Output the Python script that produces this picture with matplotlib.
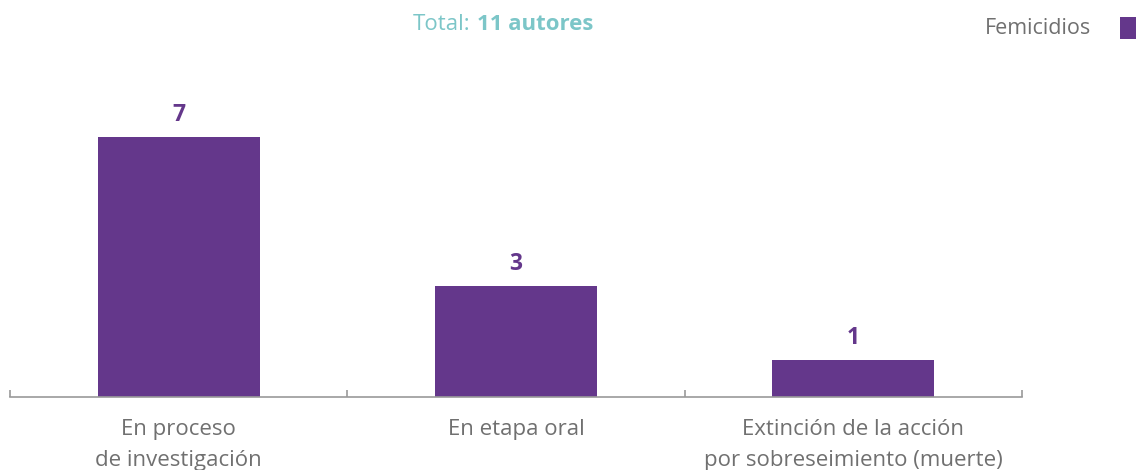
import matplotlib
matplotlib.use("Agg")
import matplotlib.pyplot as plt
from matplotlib.patches import Rectangle

categories = ["En proceso\nde investigación", "En etapa oral", "Extinción de la acción\npor sobreseimiento (muerte)"]
values = [7, 3, 1]
series_name = "Femicidios"
title_light = "Total:"
title_bold = "11 autores"

PURPLE = "#64378b"
TEAL = "#7cc6c8"
GREY = "#707070"
AXIS = "#9a9a9a"

plt.rcParams['font.family'] = ['Open Sans', 'DejaVu Sans']

W, H = 1136, 470
fig = plt.figure(figsize=(W/100, H/100), dpi=100)
ax = fig.add_axes([10/W, 1-397/H, 1012/W, (397-100)/H])

x = list(range(len(categories)))
ax.bar(x, values, width=0.48, color=PURPLE, zorder=2)
ax.set_xlim(-0.5, len(categories)-0.5)
ax.set_ylim(0, 8)

for xi, v in zip(x, values):
    ax.annotate(str(v), (xi, v), xytext=(0, 7), textcoords="offset points",
                ha="center", va="bottom", fontsize=16.5, fontweight="bold", color=PURPLE)

for s in ["top", "right", "left"]:
    ax.spines[s].set_visible(False)
ax.spines["bottom"].set_color(AXIS)
ax.spines["bottom"].set_linewidth(1.2)
ax.set_yticks([])
ax.set_xticks([i-0.5 for i in range(len(categories)+1)])
ax.set_xticklabels([])
ax.tick_params(axis="x", direction="in", length=5, width=1.2, color=AXIS)

for xi, c in zip(x, categories):
    ax.annotate(c, (xi, 0), xytext=(0, -16), textcoords="offset points",
                ha="center", va="top", fontsize=16, color=GREY, linespacing=1.58)

fig.text(470/W, 1-25/H, title_light, ha="right", va="center", fontsize=16, color=TEAL)
fig.text(477/W, 1-25/H, title_bold, ha="left", va="center", fontsize=16, color=TEAL, fontweight="bold")

fig.text(1091/W, 1-29/H, series_name, ha="right", va="center", fontsize=15.5, color=GREY)
fig.patches.append(Rectangle((1120/W, 1-39/H), 18/W, 22/H, transform=fig.transFigure,
                             facecolor=PURPLE, edgecolor="none"))

fig.savefig("out.png", dpi=100, facecolor="white")
